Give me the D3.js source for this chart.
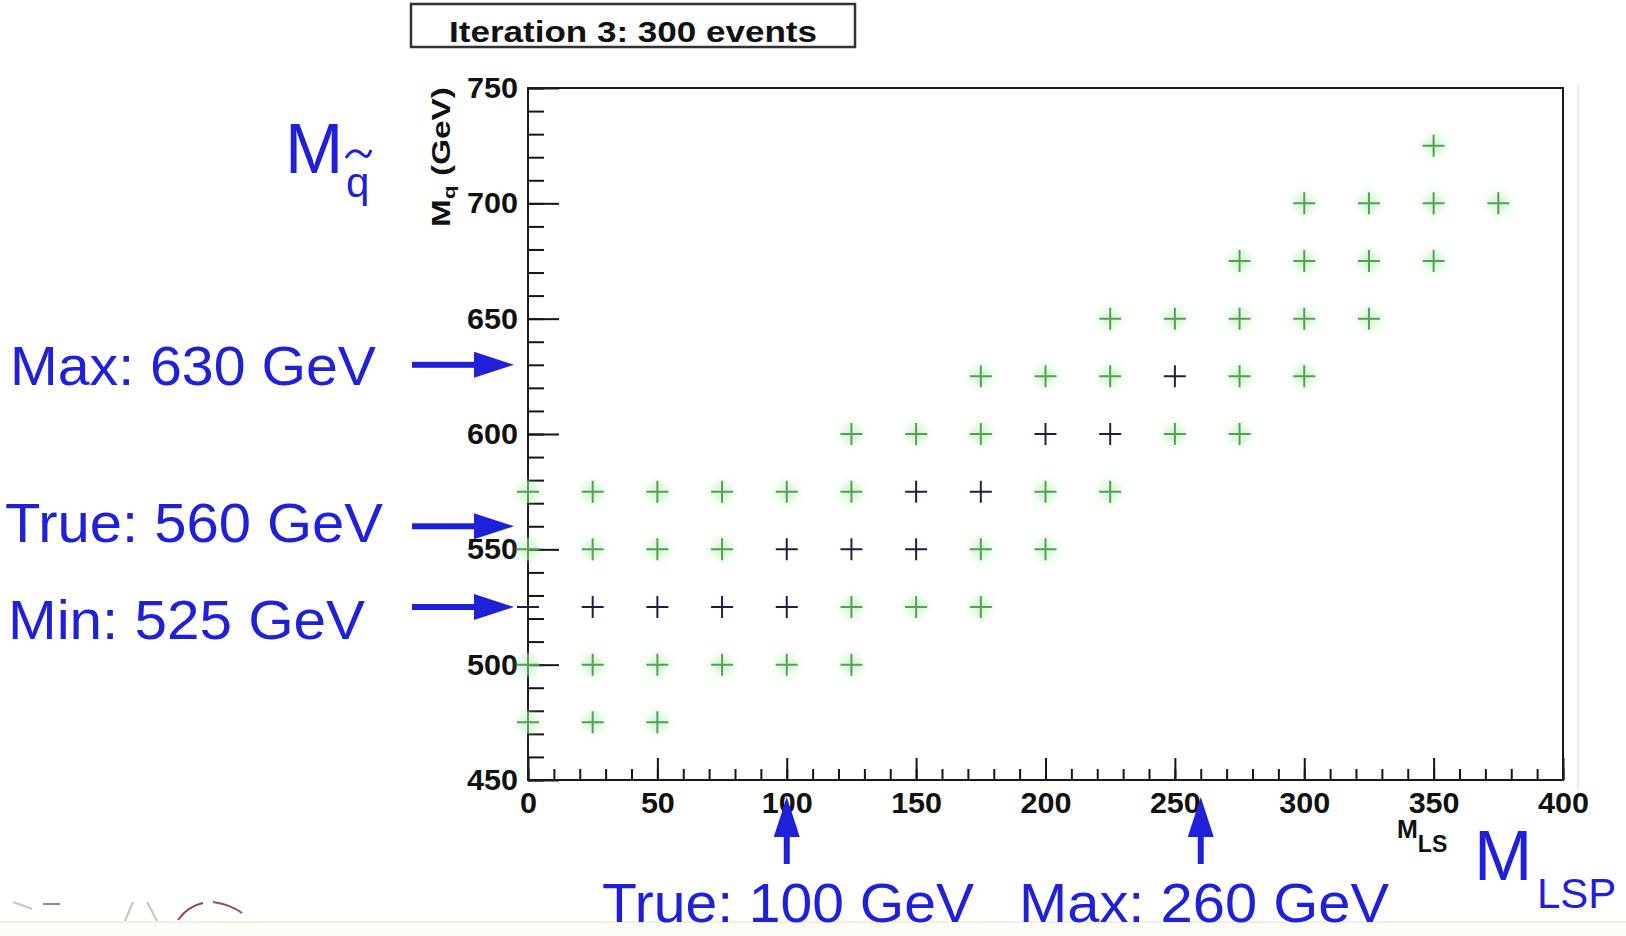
<!DOCTYPE html>
<html>
<head>
<meta charset="utf-8">
<script src="https://cdn.jsdelivr.net/npm/d3@7/dist/d3.min.js"></script>
<style>
  html, body { margin: 0; padding: 0; background: #fff; }
  svg { display: block; }
</style>
</head>
<body>
<div id="chart"></div>
<script>
// scan points after iteration 3, as [M_LSP, M_squark] in GeV
const greenPoints = [
  [350, 725],
  [300, 700], [325, 700], [350, 700], [375, 700],
  [275, 675], [300, 675], [325, 675], [350, 675],
  [225, 650], [250, 650], [275, 650], [300, 650], [325, 650],
  [175, 625], [200, 625], [225, 625], [275, 625], [300, 625],
  [125, 600], [150, 600], [175, 600], [250, 600], [275, 600],
  [0, 575], [25, 575], [50, 575], [75, 575], [100, 575], [125, 575], [200, 575], [225, 575],
  [0, 550], [25, 550], [50, 550], [75, 550], [175, 550], [200, 550],
  [125, 525], [150, 525], [175, 525],
  [0, 500], [25, 500], [50, 500], [75, 500], [100, 500], [125, 500],
  [0, 475], [25, 475], [50, 475]
];

const darkPoints = [
  [250, 625],
  [200, 600], [225, 600],
  [150, 575], [175, 575],
  [100, 550], [125, 550], [150, 550],
  [0, 525], [25, 525], [50, 525], [75, 525], [100, 525]
];

const xMajorTicks = [0, 50, 100, 150, 200, 250, 300, 350, 400];
const yMajorTicks = [450, 500, 550, 600, 650, 700, 750];
const xMinorTicks = d3.range(0, 401, 10);
const yMinorTicks = d3.range(450, 751, 10);

// squark mass markers (left) and LSP mass markers (bottom)
const squarkMarks = [
  { label: "Max: 630 GeV", value: 630, tx: 10, ty: 385, w: 366 },
  { label: "True: 560 GeV", value: 560, tx: 5, ty: 542, w: 378 },
  { label: "Min: 525 GeV", value: 525, tx: 8, ty: 639, w: 357 }
];
const lspMarks = [
  { label: "True: 100 GeV", value: 100, tx: 602, ty: 922, w: 372 },
  { label: "Max: 260 GeV", value: 260, tx: 1019, ty: 922, w: 370 }
];

const titleText = "Iteration 3: 300 events";

const width = 1626, height = 936;
const blue = "#2020d8";
const rootFont = "'Liberation Sans', Arial, Helvetica, sans-serif";

const svg = d3.select("#chart").append("svg")
  .attr("width", width)
  .attr("height", height);

const defs = svg.append("defs");
defs.append("filter")
  .attr("id", "glow")
  .attr("x", "-50%").attr("y", "-50%")
  .attr("width", "200%").attr("height", "200%")
  .append("feGaussianBlur")
  .attr("stdDeviation", 4);

svg.append("rect")
  .attr("width", width).attr("height", height)
  .attr("fill", "#fff");

// slide footer strip with what is left of the logo
svg.append("rect")
  .attr("x", 0).attr("y", 922)
  .attr("width", width).attr("height", height - 922)
  .attr("fill", "#fbfbf7");
svg.append("line")
  .attr("x1", 0).attr("x2", width)
  .attr("y1", 922).attr("y2", 922)
  .attr("stroke", "#f0f0ea").attr("stroke-width", 2);
const logo = svg.append("g").attr("fill", "none").attr("stroke-width", 2);
logo.append("path").attr("d", "M13,902 L32,909").attr("stroke", "#c8c8cc");
logo.append("path").attr("d", "M43,904 L60,904").attr("stroke", "#8a8a96");
logo.append("path").attr("d", "M125,921 L133,902 M147,902 L157,921").attr("stroke", "#c4c4c8");
logo.append("path").attr("d", "M178,920 Q188,906 203,903").attr("stroke", "#9a4050");
logo.append("path").attr("d", "M213,902 Q232,905 242,913").attr("stroke", "#9a5060");

// faint edge of the embedded plot image
svg.append("line")
  .attr("x1", 1578).attr("x2", 1578)
  .attr("y1", 84).attr("y2", 790)
  .attr("stroke", "#ececec").attr("stroke-width", 2);

const x = d3.scaleLinear().domain([0, 400]).range([528, 1563]);
const y = d3.scaleLinear().domain([450, 750]).range([780, 88]);

// title box
const titleBox = svg.append("g");
titleBox.append("rect")
  .attr("x", 411).attr("y", 4)
  .attr("width", 444).attr("height", 43)
  .attr("fill", "#fff")
  .attr("stroke", "#333")
  .attr("stroke-width", 2.5);
titleBox.append("text")
  .attr("x", 633).attr("y", 42)
  .attr("text-anchor", "middle")
  .attr("font-family", rootFont)
  .attr("font-weight", "bold")
  .attr("font-size", 29)
  .attr("textLength", 368)
  .attr("lengthAdjust", "spacingAndGlyphs")
  .attr("fill", "#111")
  .text(titleText);

// axes: ticks point into the frame
function styleAxis(g) {
  g.select(".domain").remove();
  g.attr("color", "#151515")
    .attr("font-family", rootFont)
    .attr("font-weight", "bold")
    .attr("font-size", 30);
  g.selectAll(".tick line").attr("stroke-width", 2);
  g.selectAll(".tick text")
    .attr("fill", "#111")
    .attr("textLength", d => String(d).length * 17)
    .attr("lengthAdjust", "spacingAndGlyphs");
}

svg.append("g")
  .attr("transform", `translate(0,${y(450)})`)
  .call(d3.axisBottom(x).tickValues(xMinorTicks).tickSize(-11).tickFormat(""))
  .call(styleAxis);
svg.append("g")
  .attr("transform", `translate(0,${y(450)})`)
  .call(d3.axisBottom(x).tickValues(xMajorTicks).tickSize(-22).tickPadding(12).tickFormat(d3.format("d")))
  .call(styleAxis);

svg.append("g")
  .attr("transform", `translate(${x(0)},0)`)
  .call(d3.axisLeft(y).tickValues(yMinorTicks).tickSize(-16).tickFormat(""))
  .call(styleAxis);
svg.append("g")
  .attr("transform", `translate(${x(0)},0)`)
  .call(d3.axisLeft(y).tickValues(yMajorTicks).tickSize(-31).tickPadding(10).tickFormat(d3.format("d")))
  .call(styleAxis);

// frame
svg.append("rect")
  .attr("x", x(0)).attr("y", y(750))
  .attr("width", x(400) - x(0))
  .attr("height", y(450) - y(750))
  .attr("fill", "none")
  .attr("stroke", "#1a1a1a")
  .attr("stroke-width", 2);

// axis titles
const yTitle = svg.append("text")
  .attr("transform", "translate(450,227) rotate(-90)")
  .attr("font-family", rootFont)
  .attr("font-weight", "bold")
  .attr("font-size", 25)
  .attr("fill", "#111")
  .attr("textLength", 140)
  .attr("lengthAdjust", "spacingAndGlyphs");
yTitle.append("tspan").text("M");
yTitle.append("tspan").attr("font-size", 17).attr("dy", 5).text("q");
yTitle.append("tspan").attr("dy", -5).text(" (GeV)");

const xTitle = svg.append("text")
  .attr("x", 1397).attr("y", 838)
  .attr("font-family", rootFont)
  .attr("font-weight", "bold")
  .attr("font-size", 25)
  .attr("fill", "#111");
xTitle.append("tspan").text("M");
xTitle.append("tspan").attr("font-size", 23).attr("dy", 14).text("LS");

// markers
const armLen = 11;
const crossPath = d => {
  const cx = x(d[0]), cy = y(d[1]);
  return `M${cx - armLen},${cy}H${cx + armLen}M${cx},${cy - armLen}V${cy + armLen}`;
};

svg.append("g")
  .attr("filter", "url(#glow)")
  .attr("opacity", 0.5)
  .selectAll("path")
  .data(greenPoints)
  .join("path")
  .attr("d", crossPath)
  .attr("stroke", "#a4eca4")
  .attr("stroke-width", 9)
  .attr("fill", "none");

svg.append("g")
  .selectAll("path")
  .data(greenPoints)
  .join("path")
  .attr("d", crossPath)
  .attr("stroke", "#5a9c5a")
  .attr("stroke-width", 2)
  .attr("fill", "none");

svg.append("g")
  .selectAll("path")
  .data(darkPoints)
  .join("path")
  .attr("d", crossPath)
  .attr("stroke", "#20203e")
  .attr("stroke-width", 2)
  .attr("fill", "none");

// blue annotations
const notes = svg.append("g")
  .attr("font-family", rootFont)
  .attr("fill", blue);

const headLen = 40, headHalf = 13, shaft = 6;

notes.selectAll(".sq-arrow")
  .data(squarkMarks)
  .join("g")
  .attr("class", "sq-arrow")
  .each(function(d) {
    const g = d3.select(this);
    const tip = x(0) - 14, yy = y(d.value);
    g.append("rect")
      .attr("x", 412).attr("y", yy - shaft / 2)
      .attr("width", tip - headLen + 4 - 412).attr("height", shaft);
    g.append("path")
      .attr("d", `M${tip},${yy}L${tip - headLen},${yy - headHalf}L${tip - headLen},${yy + headHalf}Z`);
  });

notes.selectAll(".lsp-arrow")
  .data(lspMarks)
  .join("g")
  .attr("class", "lsp-arrow")
  .each(function(d) {
    const g = d3.select(this);
    const tip = y(450) + 17, xx = x(d.value);
    g.append("rect")
      .attr("x", xx - shaft / 2).attr("y", tip + headLen - 4)
      .attr("width", shaft).attr("height", 864 - (tip + headLen - 4));
    g.append("path")
      .attr("d", `M${xx},${tip}L${xx - headHalf},${tip + headLen}L${xx + headHalf},${tip + headLen}Z`);
  });

notes.selectAll(".mark-label")
  .data(squarkMarks.concat(lspMarks))
  .join("text")
  .attr("class", "mark-label")
  .attr("x", d => d.tx)
  .attr("y", d => d.ty)
  .attr("font-size", 56)
  .attr("textLength", d => d.w)
  .attr("lengthAdjust", "spacingAndGlyphs")
  .text(d => d.label);

// big axis symbols: squark mass with tilde, LSP mass
notes.append("text").attr("x", 285).attr("y", 173).attr("font-size", 70).text("M");
notes.append("text").attr("x", 346).attr("y", 197).attr("font-size", 42).text("q");
notes.append("path")
  .attr("d", "M346,158 C352,148 358,150 362,154 S368,158 371,150")
  .attr("fill", "none")
  .attr("stroke", blue)
  .attr("stroke-width", 3);

notes.append("text").attr("x", 1474).attr("y", 880).attr("font-size", 70).text("M");
notes.append("text").attr("x", 1537).attr("y", 908).attr("font-size", 42).text("LSP");
</script>
</body>
</html>
